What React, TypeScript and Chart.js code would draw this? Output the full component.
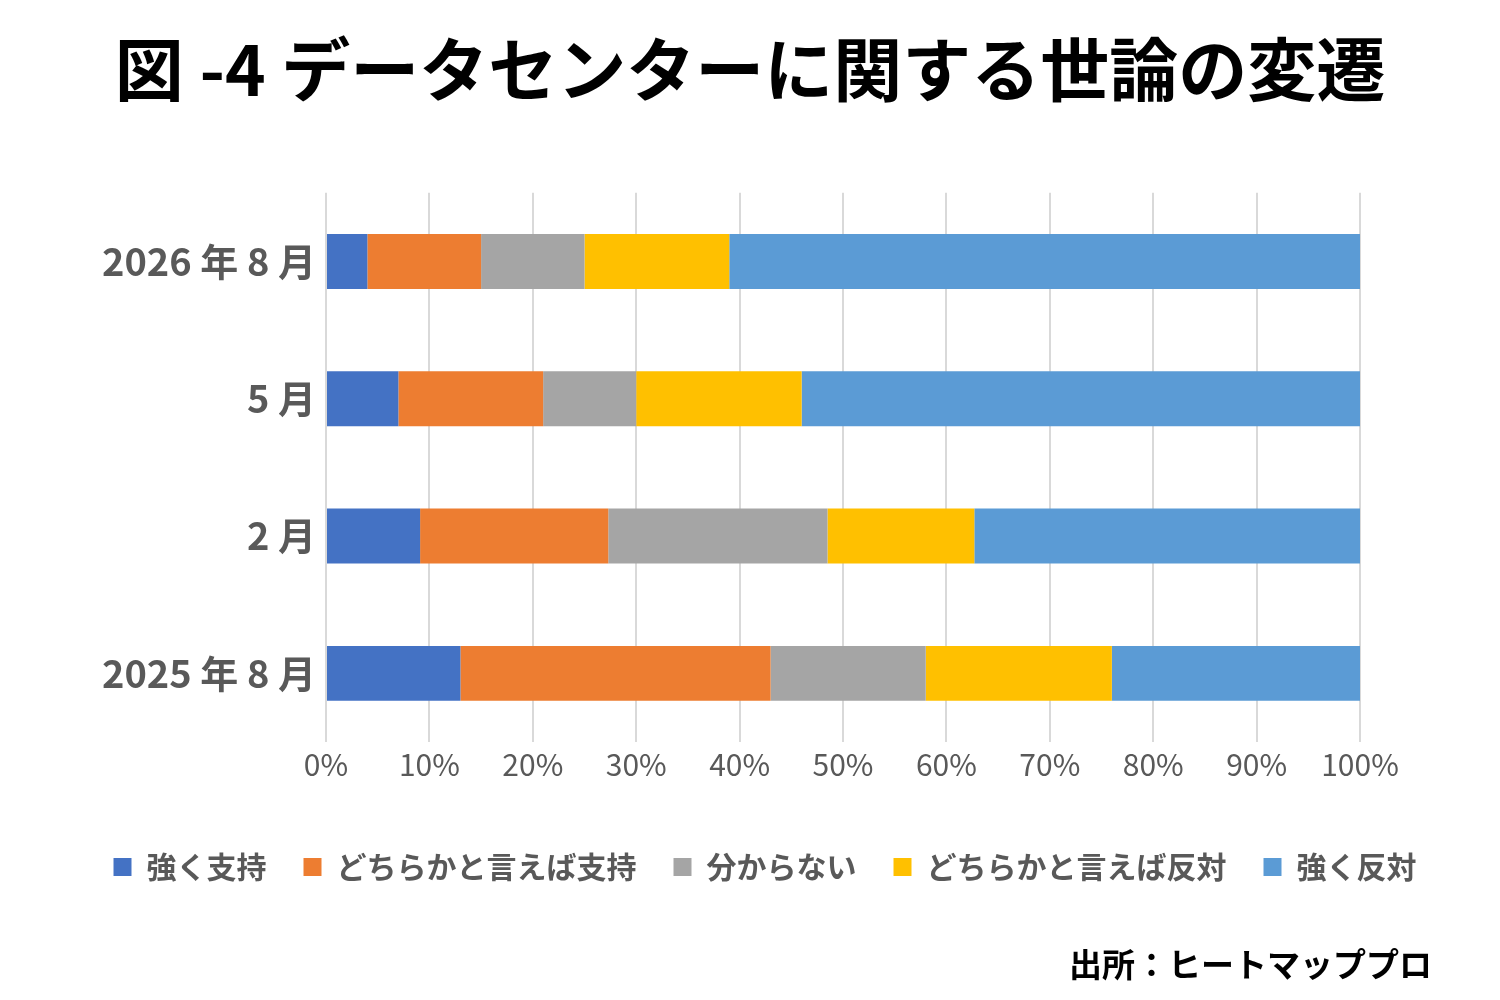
import React, { useEffect, useRef } from "react";
import { Chart, registerables } from "chart.js";

Chart.register(...registerables);

const TITLE = "図 -4 データセンターに関する世論の変遷";
const SOURCE = "出所：ヒートマッププロ";

const categories = ["2026 年 8 月", "5 月", "2 月", "2025 年 8 月"];
const seriesNames = ["強く支持", "どちらかと言えば支持", "分からない", "どちらかと言えば反対", "強く反対"];
const strongSupport = [4, 7, 9.1, 13];
const leanSupport = [11, 14, 18.2, 30];
const unknown = [10, 9, 21.2, 15];
const leanOppose = [14, 16, 14.2, 18];
const strongOppose = [61, 54, 37.3, 24];
const seriesColors = ["#4472C4", "#ED7D31", "#A5A5A5", "#FFC000", "#5B9BD5"];

const FONT = "'Noto Sans CJK JP', 'Noto Sans', sans-serif";

export default function App() {
  const ref = useRef<HTMLCanvasElement | null>(null);

  useEffect(() => {
    if (!ref.current) return;
    const values = [strongSupport, leanSupport, unknown, leanOppose, strongOppose];
    const sourcePlugin = {
      id: "sourceText",
      afterLayout(chart: any) {
        const l = chart.legend;
        if (l) {
          l.left += 15;
          l.right += 15;
        }
      },
      afterDraw(chart: any) {
        const ctx = chart.ctx;
        ctx.save();
        ctx.font = `bold 33px ${FONT}`;
        ctx.fillStyle = "#000000";
        ctx.textAlign = "right";
        ctx.textBaseline = "middle";
        ctx.fillText(SOURCE, 1432, 964);
        ctx.restore();
      },
    };
    const chart = new Chart(ref.current, {
      type: "bar",
      data: {
        labels: categories,
        datasets: seriesNames.map((name, i) => ({
          label: name,
          data: values[i],
          backgroundColor: seriesColors[i],
          borderWidth: 0,
          barPercentage: 0.4,
          categoryPercentage: 1,
        })),
      },
      options: {
        indexAxis: "y",
        responsive: false,
        animation: false,
        layout: { padding: { top: 0, left: 0, right: 0, bottom: 108 } },
        scales: {
          x: {
            stacked: true,
            min: 0,
            max: 100,
            ticks: {
              stepSize: 10,
              callback: (v: any) => v + "%",
              color: "#595959",
              font: { family: FONT, size: 30, weight: "normal" },
              padding: 5,
            },
            grid: { color: "#D9D9D9", lineWidth: 2, drawTicks: false },
            border: { display: false },
            afterFit: (s: any) => {
              s.height = 73;
            },
          },
          y: {
            stacked: true,
            ticks: {
              color: "#595959",
              font: { family: FONT, size: 38, weight: "bold" },
              padding: 10,
            },
            grid: { display: false, drawTicks: false },
            border: { display: false },
            afterFit: (s: any) => {
              s.width = 326;
            },
          },
          yR: {
            type: "category",
            position: "right",
            ticks: { display: false },
            grid: { display: false, drawTicks: false },
            border: { display: false },
            afterFit: (s: any) => {
              s.width = 140;
            },
          },
        },
        plugins: {
          title: {
            display: true,
            text: TITLE,
            color: "#000000",
            font: { family: FONT, size: 69, weight: "bold", lineHeight: 1.2 },
            padding: { top: 28, bottom: 82 },
          },
          legend: {
            position: "bottom",
            labels: {
              boxWidth: 18,
              boxHeight: 18,
              padding: 37,
              color: "#595959",
              font: { family: FONT, size: 30, weight: "bold" },
            },
          },
          tooltip: { enabled: false },
        },
      } as any,
      plugins: [sourcePlugin],
    });
    return () => chart.destroy();
  }, []);

  return (
    <div style={{ position: "absolute", left: 0, top: 0, width: 1500, height: 1000, background: "#fff" }}>
      <canvas ref={ref} width={1500} height={1000} />
    </div>
  );
}
